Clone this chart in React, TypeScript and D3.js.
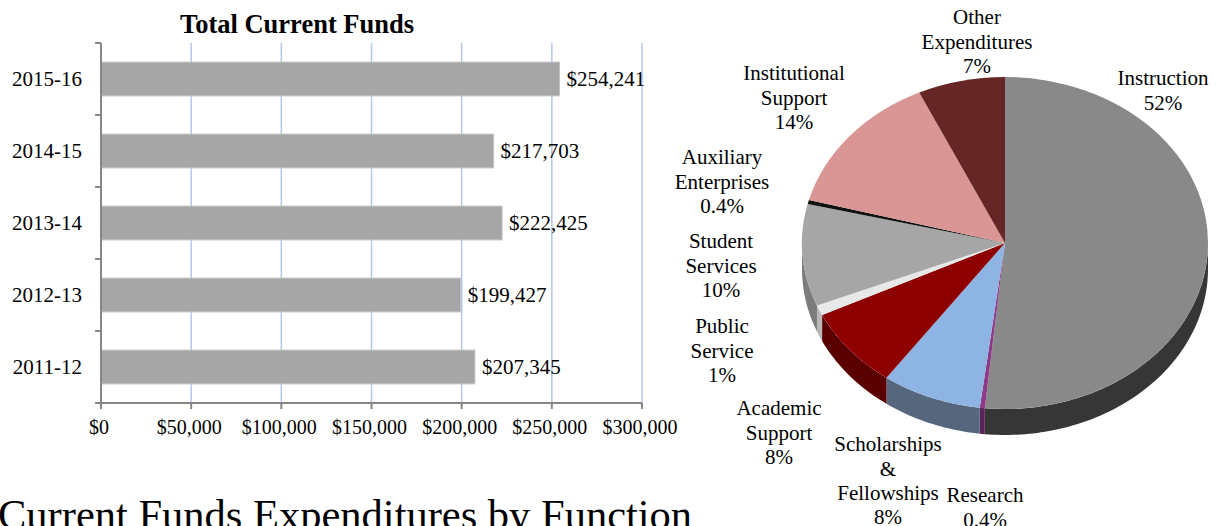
import React from 'react';
import * as d3 from 'd3';

// ---------- data ----------
const years = ['2015-16', '2014-15', '2013-14', '2012-13', '2011-12'];
const totals = [254241, 217703, 222425, 199427, 207345];
const xTicks = [0, 50000, 100000, 150000, 200000, 250000, 300000];

const pieNames = [
  ['Instruction'],
  ['Research'],
  ['Scholarships', '&', 'Fellowships'],
  ['Academic', 'Support'],
  ['Public', 'Service'],
  ['Student', 'Services'],
  ['Auxiliary', 'Enterprises'],
  ['Institutional', 'Support'],
  ['Other', 'Expenditures'],
];
const piePct = [52, 0.4, 8, 8, 1, 10, 0.4, 14, 7];

// ---------- styles / layout ----------
const topColors = ['#898989', '#8e3a8a', '#8db4e2', '#8e0000', '#e8e8e8', '#a6a6a6', '#111111', '#d99694', '#662626'];
const sideColors = ['#363636', '#5a2358', '#56677d', '#5a0000', '#b8b8b8', '#7c7c7c', '#000000', '#a06e6d', '#421818'];
const labelAnchors: [number, number][] = [
  [1163, 78], [985, 495], [888, 444], [779, 408], [722, 326], [721, 241], [722, 157], [794, 73], [977, 17],
];

const W = 1219;
const H = 526;
const FONT = '"Liberation Serif", "Times New Roman", serif';

export default function App() {
  // bar chart scales
  const x = d3.scaleLinear().domain([0, 300000]).range([101, 642]);
  const y = d3.scaleBand<string>().domain(years).range([43, 403]).paddingInner(0.53).paddingOuter(0.265);
  const fmt = d3.format('$,');
  const step = y.step();
  const bandEdges = d3.range(years.length + 1).map((i) => 43 + i * step);

  // pie geometry
  const cx = 1005, cy = 243, rx = 203, ry = 166, depth = 26;
  const arcs = d3.pie<number>().sort(null).value((d) => d)(piePct);
  const arcGen = d3.arc<d3.PieArcDatum<number>>().innerRadius(0).outerRadius(rx);
  const pt = (a: number, dy = 0): [number, number] => [rx * Math.sin(a), -ry * Math.cos(a) + dy];
  const sides = arcs.map((a, i) => {
    const s0 = Math.max(a.startAngle, Math.PI / 2);
    const s1 = Math.min(a.endAngle, (3 * Math.PI) / 2);
    if (s0 >= s1) return null;
    const n = Math.max(2, Math.ceil((s1 - s0) / 0.02));
    const angs = d3.range(n + 1).map((k) => s0 + ((s1 - s0) * k) / n);
    const pts = [...angs.map((t) => pt(t)), ...angs.slice().reverse().map((t) => pt(t, depth))];
    return { i, d: d3.line()(pts) + 'Z' };
  });

  return (
    <svg width={W} height={H} style={{ position: 'absolute', left: 0, top: 0, background: '#fff' }} fontFamily={FONT}>
      {/* ---- Bar chart ---- */}
      <text x={297} y={33} textAnchor="middle" fontSize={26.5} fontWeight="bold" fill="#000">
        Total Current Funds
      </text>
      {xTicks.slice(1).map((t) => (
        <line key={'g' + t} x1={x(t)} x2={x(t)} y1={43} y2={403} stroke="#b4c7e7" strokeWidth={1.5} />
      ))}
      {years.map((yr, i) => (
        <rect key={yr} x={x(0)} y={y(yr)!} width={x(totals[i]) - x(0)} height={y.bandwidth()} fill="#a6a6a6" stroke="#c4c4c4" strokeWidth={1} />
      ))}
      {/* axes */}
      <line x1={101} x2={101} y1={43} y2={403} stroke="#868686" strokeWidth={2} />
      {bandEdges.map((e, i) => (
        <line key={'yt' + i} x1={95} x2={101} y1={e} y2={e} stroke="#868686" strokeWidth={2} />
      ))}
      <line x1={95} x2={x(300000)} y1={403} y2={403} stroke="#868686" strokeWidth={2} />
      {xTicks.map((t) => (
        <line key={'xt' + t} x1={x(t)} x2={x(t)} y1={403} y2={409} stroke="#868686" strokeWidth={2} />
      ))}
      {xTicks.map((t) => (
        <text key={'xl' + t} x={x(t) - 2} y={434} textAnchor="middle" fontSize={20} fill="#000">
          {fmt(t)}
        </text>
      ))}
      {years.map((yr) => (
        <text key={'yl' + yr} x={82} y={y(yr)! + y.bandwidth() / 2} dy="0.35em" textAnchor="end" fontSize={21} fill="#000">
          {yr}
        </text>
      ))}
      {years.map((yr, i) => (
        <text key={'vl' + yr} x={x(totals[i]) + 7} y={y(yr)! + y.bandwidth() / 2} dy="0.35em" fontSize={21} fill="#000">
          {fmt(totals[i])}
        </text>
      ))}

      {/* ---- Pie chart ---- */}
      <g transform={`translate(${cx},${cy})`}>
        {sides.map((s) => s && <path key={'s' + s.i} d={s.d} fill={sideColors[s.i]} />)}
        <g transform={`scale(1, ${ry / rx})`}>
          {arcs.map((a, i) => (
            <path key={'p' + i} d={arcGen(a)!} fill={topColors[i]} />
          ))}
        </g>
      </g>
      {pieNames.map((lines, i) => {
        const [lx, ly] = labelAnchors[i];
        const all = [...lines, `${piePct[i]}%`];
        return (
          <text key={'pl' + i} x={lx} y={ly} textAnchor="middle" fontSize={21} fill="#000">
            {all.map((l, k) => (
              <tspan key={k} x={lx} y={ly + k * 24.3} dy="0.35em">
                {l}
              </tspan>
            ))}
          </text>
        );
      })}

      {/* ---- Bottom title ---- */}
      <text x={-2} y={529} fontSize={42.5} fill="#000">
        Current Funds Expenditures by Function
      </text>
    </svg>
  );
}
